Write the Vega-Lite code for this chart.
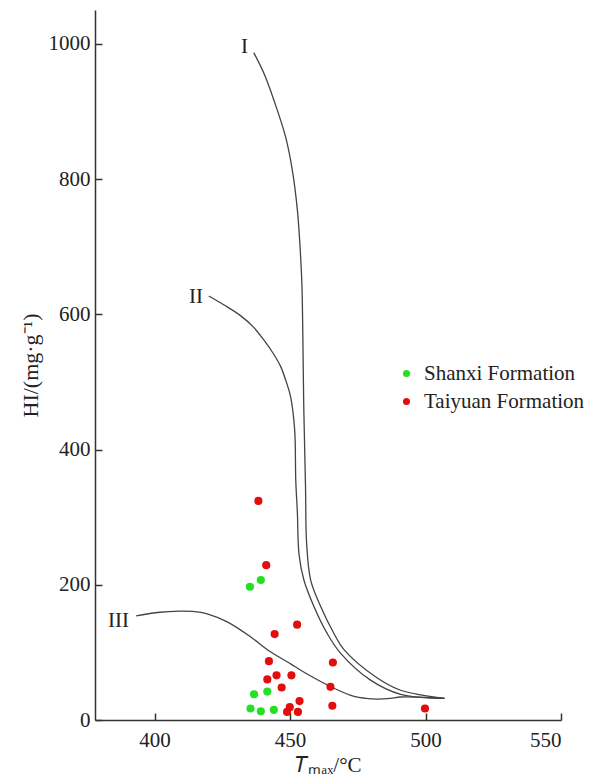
{
  "$schema": "https://vega.github.io/schema/vega-lite/v6.json",
  "width": 466,
  "height": 710,
  "autosize": {"type": "none"},
  "padding": {"left": 95, "top": 10, "right": 33, "bottom": 56},
  "background": "white",
  "config": {
    "view": {"stroke": null},
    "font": "Liberation Serif",
    "axis": {
      "grid": false,
      "domainColor": "#333333",
      "domainWidth": 1.5,
      "tickColor": "#333333",
      "tickWidth": 1.5,
      "tickSize": -7,
      "labelFont": "Liberation Serif",
      "labelFontSize": 21,
      "labelColor": "#222222",
      "titleFont": "Liberation Serif",
      "titleFontSize": 21,
      "titleFontWeight": "normal",
      "titleColor": "#222222"
    },
    "legend": {
      "labelFont": "Liberation Serif",
      "labelFontSize": 21,
      "labelColor": "#222222",
      "labelLimit": 300
    }
  },
  "datasets": {
    "curves": [
      {"curve": "I", "t": 436.6, "hi": 987},
      {"curve": "I", "t": 440.5, "hi": 955},
      {"curve": "I", "t": 444.0, "hi": 917},
      {"curve": "I", "t": 448.3, "hi": 863},
      {"curve": "I", "t": 450.8, "hi": 814},
      {"curve": "I", "t": 452.7, "hi": 754},
      {"curve": "I", "t": 453.9, "hi": 685},
      {"curve": "I", "t": 454.4, "hi": 640},
      {"curve": "I", "t": 455.1, "hi": 454},
      {"curve": "I", "t": 455.7, "hi": 345},
      {"curve": "I", "t": 456.1, "hi": 262},
      {"curve": "I", "t": 457.6, "hi": 207},
      {"curve": "I", "t": 461.3, "hi": 168},
      {"curve": "I", "t": 466.2, "hi": 128},
      {"curve": "I", "t": 469.9, "hi": 104},
      {"curve": "I", "t": 482.2, "hi": 62},
      {"curve": "I", "t": 490.8, "hi": 44},
      {"curve": "I", "t": 507.0, "hi": 32},
      {"curve": "II", "t": 420.0, "hi": 627},
      {"curve": "II", "t": 425.5, "hi": 614},
      {"curve": "II", "t": 431.7, "hi": 598},
      {"curve": "II", "t": 436.5, "hi": 581},
      {"curve": "II", "t": 440.3, "hi": 562},
      {"curve": "II", "t": 443.8, "hi": 542},
      {"curve": "II", "t": 446.5, "hi": 523},
      {"curve": "II", "t": 448.6, "hi": 500},
      {"curve": "II", "t": 450.2, "hi": 478},
      {"curve": "II", "t": 451.7, "hi": 429},
      {"curve": "II", "t": 452.1, "hi": 355},
      {"curve": "II", "t": 452.7, "hi": 306},
      {"curve": "II", "t": 453.3, "hi": 245},
      {"curve": "II", "t": 455.1, "hi": 207},
      {"curve": "II", "t": 458.8, "hi": 168},
      {"curve": "II", "t": 463.7, "hi": 128},
      {"curve": "II", "t": 468.6, "hi": 99},
      {"curve": "II", "t": 479.7, "hi": 59},
      {"curve": "II", "t": 490.8, "hi": 38},
      {"curve": "II", "t": 507.0, "hi": 32},
      {"curve": "III", "t": 393.2, "hi": 154},
      {"curve": "III", "t": 401.0, "hi": 159},
      {"curve": "III", "t": 409.6, "hi": 161},
      {"curve": "III", "t": 414.0, "hi": 160.5},
      {"curve": "III", "t": 419.4, "hi": 157},
      {"curve": "III", "t": 426.8, "hi": 145},
      {"curve": "III", "t": 435.4, "hi": 123},
      {"curve": "III", "t": 441.6, "hi": 104},
      {"curve": "III", "t": 450.2, "hi": 83},
      {"curve": "III", "t": 455.0, "hi": 71},
      {"curve": "III", "t": 466.2, "hi": 47},
      {"curve": "III", "t": 473.6, "hi": 35},
      {"curve": "III", "t": 478.0, "hi": 32},
      {"curve": "III", "t": 482.2, "hi": 31},
      {"curve": "III", "t": 487.0, "hi": 32},
      {"curve": "III", "t": 490.8, "hi": 34},
      {"curve": "III", "t": 507.0, "hi": 32}
    ],
    "labels": [
      {"text": "I", "t": 433.2, "hi": 995},
      {"text": "II", "t": 415.3, "hi": 626},
      {"text": "III", "t": 386.7, "hi": 146}
    ],
    "samples": [
      {"formation": "Shanxi Formation", "t": 435.2, "hi": 197},
      {"formation": "Shanxi Formation", "t": 439.2, "hi": 207},
      {"formation": "Shanxi Formation", "t": 436.7, "hi": 38},
      {"formation": "Shanxi Formation", "t": 441.6, "hi": 42},
      {"formation": "Shanxi Formation", "t": 435.4, "hi": 17},
      {"formation": "Shanxi Formation", "t": 439.2, "hi": 13},
      {"formation": "Shanxi Formation", "t": 444.0, "hi": 15},
      {"formation": "Taiyuan Formation", "t": 438.3, "hi": 324},
      {"formation": "Taiyuan Formation", "t": 441.2, "hi": 229},
      {"formation": "Taiyuan Formation", "t": 452.6, "hi": 141},
      {"formation": "Taiyuan Formation", "t": 444.3, "hi": 127},
      {"formation": "Taiyuan Formation", "t": 442.2, "hi": 87},
      {"formation": "Taiyuan Formation", "t": 465.8, "hi": 85},
      {"formation": "Taiyuan Formation", "t": 441.6, "hi": 60},
      {"formation": "Taiyuan Formation", "t": 445.0, "hi": 66},
      {"formation": "Taiyuan Formation", "t": 450.5, "hi": 66},
      {"formation": "Taiyuan Formation", "t": 446.9, "hi": 48},
      {"formation": "Taiyuan Formation", "t": 464.9, "hi": 49},
      {"formation": "Taiyuan Formation", "t": 453.5, "hi": 28},
      {"formation": "Taiyuan Formation", "t": 465.6, "hi": 21},
      {"formation": "Taiyuan Formation", "t": 449.9, "hi": 19},
      {"formation": "Taiyuan Formation", "t": 448.9, "hi": 12},
      {"formation": "Taiyuan Formation", "t": 452.9, "hi": 12},
      {"formation": "Taiyuan Formation", "t": 499.8, "hi": 17}
    ]
  },
  "layer": [
    {
      "data": {"name": "curves"},
      "mark": {"type": "line", "interpolate": "catmull-rom", "color": "#444444", "strokeWidth": 1.3},
      "encoding": {
        "x": {
          "field": "t",
          "type": "quantitative",
          "scale": {"domain": [378, 550], "nice": false, "zero": false},
          "axis": {
            "values": [400, 450, 500, 550],
            "title": "𝑇ₘₐₓ/°C",
            "labelFont": "Liberation Serif",
            "labelPadding": 16,
            "titlePadding": 4
          }
        },
        "y": {
          "field": "hi",
          "type": "quantitative",
          "scale": {"domain": [0, 1050], "nice": false},
          "axis": {
            "values": [0, 200, 400, 600, 800, 1000],
            "format": "d",
            "title": "HI/(mg·g⁻¹)",
            "labelFont": "Liberation Serif",
            "titleFontSize": 22,
            "labelPadding": 12,
            "titlePadding": 6
          }
        },
        "detail": {"field": "curve"}
      }
    },
    {
      "data": {"name": "samples"},
      "mark": {"type": "circle", "size": 66, "opacity": 1},
      "encoding": {
        "x": {"field": "t", "type": "quantitative"},
        "y": {"field": "hi", "type": "quantitative"},
        "color": {
          "field": "formation",
          "type": "nominal",
          "scale": {
            "domain": ["Shanxi Formation", "Taiyuan Formation"],
            "range": ["#22e022", "#e30d0d"]
          },
          "legend": {
            "title": null,
            "orient": "none",
            "legendX": 301,
            "legendY": 353,
            "padding": 0,
            "symbolType": "circle",
            "symbolSize": 50,
            "symbolStrokeWidth": 0,
            "labelOffset": 7,
            "labelLimit": 300,
            "rowPadding": 6
          }
        }
      }
    },
    {
      "data": {"name": "labels"},
      "mark": {"type": "text", "font": "Liberation Serif", "fontSize": 21, "color": "#222222", "align": "center", "baseline": "middle"},
      "encoding": {
        "x": {"field": "t", "type": "quantitative"},
        "y": {"field": "hi", "type": "quantitative"},
        "text": {"field": "text"}
      }
    }
  ]
}
